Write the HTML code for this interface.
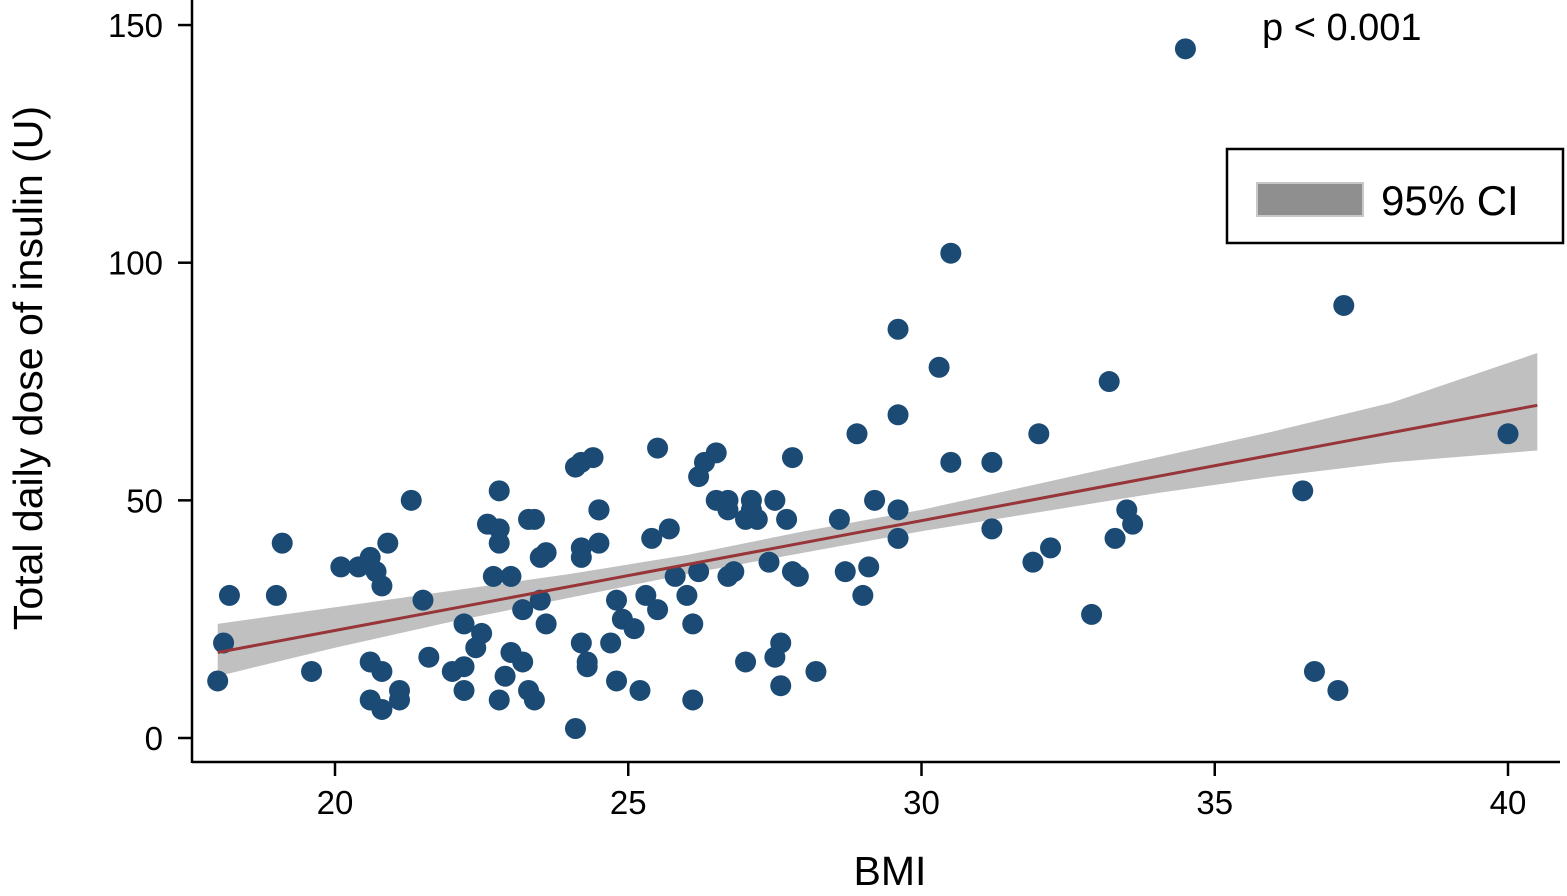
<!DOCTYPE html>
<html><head><meta charset="utf-8"><style>
html,body{margin:0;padding:0;background:#fff;}
svg{display:block;font-family:"Liberation Sans",Arial,sans-serif;}
</style></head><body>
<svg id="chart" width="1567" height="896" xmlns="http://www.w3.org/2000/svg">
<g id="band"></g>
<g id="pts"></g>
<g id="fit"></g>
<g id="axes"></g>
<text x="1262" y="40" font-size="38" fill="#000">p &lt; 0.001</text>
<g>
<rect x="1227" y="149" width="336" height="94" fill="#fff" stroke="#000" stroke-width="2.5"/>
<rect x="1257" y="183" width="106" height="33" fill="#8f8f8f" stroke="#c8c8c8" stroke-width="2"/>
<text x="1381" y="215" font-size="42" fill="#000">95% CI</text>
</g>
<text x="890" y="885" font-size="41" text-anchor="middle" fill="#000">BMI</text>
<text transform="translate(42,368) rotate(-90)" font-size="41" text-anchor="middle" fill="#000">Total daily dose of insulin (U)</text>
</svg>
<script>
const bmi=[18.0,18.1,18.2,19.0,19.1,19.6,20.1,20.4,20.6,20.7,20.8,20.6,20.8,20.9,21.3,20.6,20.8,21.1,21.1,21.5,21.6,22.0,22.2,22.2,22.2,22.4,22.5,22.6,22.7,22.8,22.8,22.8,22.8,22.9,23.0,23.0,23.2,23.2,23.3,23.4,23.3,23.4,23.5,23.6,23.5,23.6,24.1,24.1,24.2,24.4,24.2,24.2,24.5,24.5,24.5,24.2,24.3,24.3,24.8,24.7,24.8,24.9,25.1,25.2,25.3,25.4,25.5,25.5,25.7,25.8,26.0,26.1,26.1,26.2,26.3,26.5,26.5,26.7,26.7,26.2,26.7,26.8,27.0,27.1,27.1,27.0,27.2,27.5,27.4,27.5,27.6,27.6,27.7,27.8,27.8,27.9,28.2,28.6,28.7,29.0,28.9,29.2,29.1,29.6,29.6,29.6,29.6,30.3,30.5,30.5,31.2,31.2,31.9,32.0,32.2,32.9,33.2,33.3,33.6,33.5,34.5,36.5,36.7,37.1,37.2,40.0];
const dose=[12,20,30,30,41,14,36,36,38,35,32,16,14,41,50,8,6,10,8,29,17,14,24,15,10,19,22,45,34,44,52,41,8,13,18,34,27,16,46,46,10,8,38,39,29,24,2,57,58,59,38,40,48,48,41,20,16,15,12,20,29,25,23,10,30,42,61,27,44,34,30,24,8,55,58,60,50,48,50,35,34,35,16,48,50,46,46,50,37,17,11,20,46,35,59,34,14,46,35,30,64,50,36,86,68,48,42,78,102,58,58,44,37,64,40,26,75,42,45,48,145,52,14,10,91,64];
const bandX=[18,20,22,24,26,28,30,32,34,36,38,40.5];
const bandLo=[13,19,24.5,29.5,34.5,39,43.5,47.5,51.5,55,58,60.5];
const bandHi=[24,27.5,31,34.5,38.5,43.5,48,53.5,59,64.5,70.5,81];
const fitX=[18,40.5];
const fitY=[18,70];
const xTicks=[20,25,30,35,40];
const yTicks=[0,50,100,150];
const NS="http://www.w3.org/2000/svg";
const X=v=>335+(v-20)*58.65;
const Y=v=>738-v*4.753;
function mk(t,p,a){const e=document.createElementNS(NS,t);for(const k in a)e.setAttribute(k,a[k]);p.appendChild(e);return e;}
const band=document.getElementById('band');
let d='M'+bandX.map((x,i)=>X(x)+','+Y(bandHi[i])).join(' L');
for(let i=bandX.length-1;i>=0;i--)d+=' L'+X(bandX[i])+','+Y(bandLo[i]);
const bp=mk('path',band,{d:d+'Z',fill:'#c0c0c0'});


const pts=document.getElementById('pts');
bmi.forEach((b,i)=>{const c=mk('circle',pts,{cx:X(b),cy:Y(dose[i]),r:10.5,fill:'#1b4a74'});

});
const fl=mk('line',document.getElementById('fit'),{x1:X(fitX[0]),y1:Y(fitY[0]),x2:X(fitX[1]),y2:Y(fitY[1]),stroke:'#973538','stroke-width':3});


const ax=document.getElementById('axes');
const xa=mk('line',ax,{x1:192,y1:762,x2:1560,y2:762,stroke:'#000','stroke-width':2.5});


const ya=mk('line',ax,{x1:192,y1:0,x2:192,y2:763,stroke:'#000','stroke-width':2.5});


xTicks.forEach(t=>{mk('line',ax,{x1:X(t),y1:762,x2:X(t),y2:776,stroke:'#000','stroke-width':2.5});
const tx=mk('text',ax,{x:X(t),y:814,'font-size':33,'text-anchor':'middle'});tx.textContent=t;

});
yTicks.forEach(t=>{mk('line',ax,{x1:178,y1:Y(t),x2:192,y2:Y(t),stroke:'#000','stroke-width':2.5});
const tx=mk('text',ax,{x:163,y:Y(t)+12,'font-size':33,'text-anchor':'end'});tx.textContent=t;

});
</script>
</body></html>
